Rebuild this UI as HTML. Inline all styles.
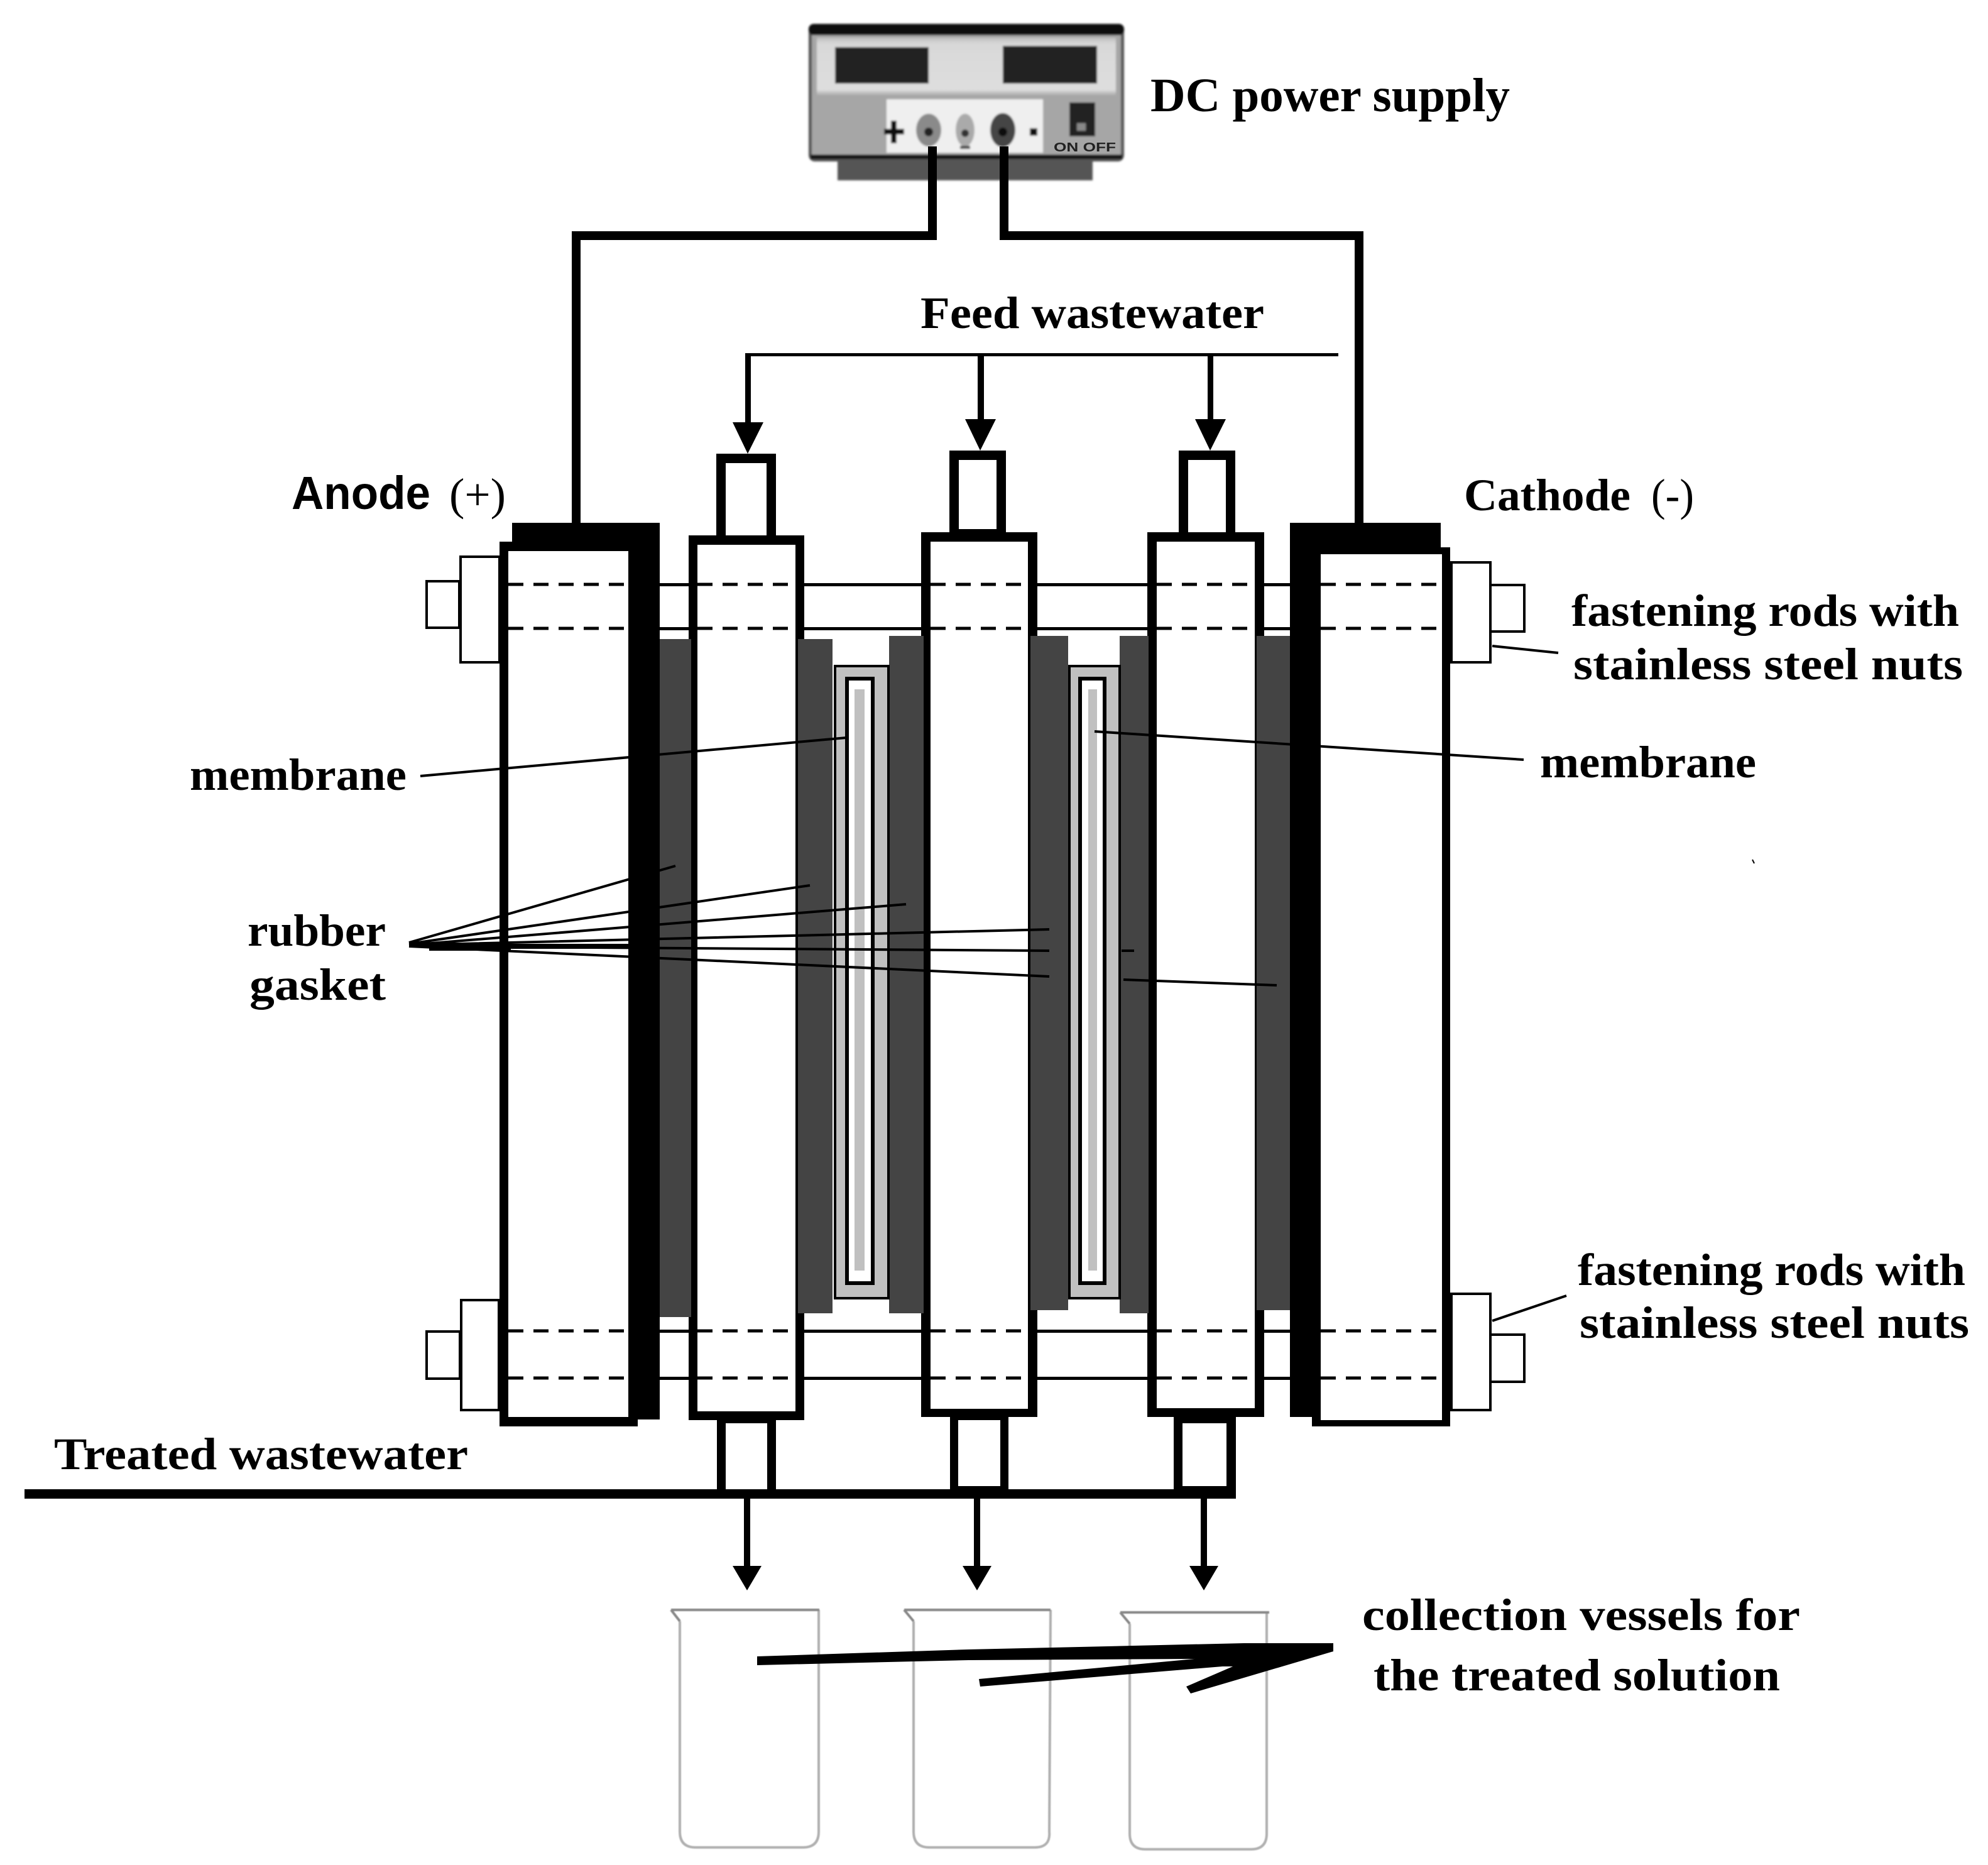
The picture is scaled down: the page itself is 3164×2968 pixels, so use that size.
<!DOCTYPE html>
<html><head><meta charset="utf-8"><style>
html,body{margin:0;padding:0;background:#fff}
svg{display:block}
text{font-family:"Liberation Serif",serif;font-weight:bold;fill:#000}
</style></head><body>
<svg width="3164" height="2968" viewBox="0 0 3164 2968" xmlns="http://www.w3.org/2000/svg">
<defs>
<filter id="b" x="-5%" y="-5%" width="110%" height="110%"><feGaussianBlur stdDeviation="1.6"/></filter>
<filter id="b2" x="-5%" y="-5%" width="110%" height="110%"><feGaussianBlur stdDeviation="0.8"/></filter>
<linearGradient id="pg" x1="0" y1="0" x2="0" y2="1"><stop offset="0" stop-color="#bdbdbd"/><stop offset="0.1" stop-color="#d8d8d8"/><stop offset="0.9" stop-color="#dedede"/><stop offset="1" stop-color="#a8a8a8"/></linearGradient>
</defs>
<rect width="3164" height="2968" fill="#fff"/>

<!-- power supply -->
<g filter="url(#b)">
<rect x="1333" y="250" width="406" height="37" fill="#555"/>
<rect x="1287" y="38" width="502" height="219" rx="10" fill="#555"/>
<rect x="1287" y="38" width="502" height="18" rx="8" fill="#111"/>
<rect x="1290" y="246" width="496" height="7" fill="#111"/>
<rect x="1292" y="56" width="492" height="190" fill="#a6a6a6"/>
<rect x="1300" y="60" width="476" height="92" fill="url(#pg)"/>
<rect x="1329" y="75" width="149" height="58" fill="#222"/>
<rect x="1596" y="73" width="150" height="60" fill="#222"/>
<rect x="1411" y="158" width="249" height="85" fill="#efefef"/>
<ellipse cx="1478" cy="207" rx="20" ry="26" fill="#8a8a8a"/>
<ellipse cx="1536" cy="207" rx="15" ry="26" fill="#aaa"/>
<ellipse cx="1596" cy="207" rx="20" ry="27" fill="#444"/>
<circle cx="1478" cy="210" r="7" fill="#222"/><circle cx="1536" cy="212" r="6" fill="#333"/><circle cx="1596" cy="210" r="7" fill="#111"/>
<rect x="1407" y="205" width="32" height="9" fill="#111"/><rect x="1418" y="192" width="9" height="36" fill="#111"/>
<rect x="1639" y="204" width="12" height="12" fill="#111"/>
<rect x="1528" y="232" width="16" height="5" fill="#444"/>
<rect x="1702" y="163" width="41" height="54" fill="#222"/>
<rect x="1714" y="196" width="14" height="12" fill="#888"/>
</g>
<text x="1677" y="241" font-size="20" textLength="99" lengthAdjust="spacingAndGlyphs" style="font-family:'Liberation Sans',sans-serif;fill:#222">ON OFF</text>

<!-- wires -->
<path d="M917 835V375H1484V233M1598 233V375H2163V835" fill="none" stroke="#000" stroke-width="14"/>

<!-- solid rods -->
<g fill="#000">
<rect x="1050" y="928" width="1003" height="5"/><rect x="1050" y="998" width="1003" height="5"/>
<rect x="1050" y="2116" width="1003" height="5"/><rect x="1050" y="2191" width="1003" height="5"/>
</g>

<!-- stubs -->
<g fill="#000">
<rect x="1140" y="722" width="95" height="140"/>
<rect x="1511" y="717" width="90" height="140"/>
<rect x="1876" y="717" width="90" height="140"/>
<rect x="1141" y="2250" width="94" height="125"/>
<rect x="1512" y="2250" width="93" height="120"/>
<rect x="1868" y="2250" width="99" height="120"/>
</g>
<g fill="#fff">
<rect x="1155" y="737" width="65" height="115"/>
<rect x="1526" y="732" width="60" height="110"/>
<rect x="1891" y="732" width="60" height="115"/>
<rect x="1155" y="2265" width="66" height="105"/>
<rect x="1525" y="2260" width="67" height="105"/>
<rect x="1882" y="2265" width="70" height="100"/>
</g>

<!-- chambers -->
<g fill="#000">
<rect x="1096" y="852" width="184" height="1408"/>
<rect x="1466" y="847" width="185" height="1408"/>
<rect x="1826" y="847" width="186" height="1408"/>
</g>
<g fill="#fff">
<rect x="1110" y="867" width="156" height="1379"/>
<rect x="1481" y="862" width="155" height="1380"/>
<rect x="1841" y="862" width="156" height="1379"/>
</g>

<!-- gaskets (over chamber walls) -->
<g fill="#444">
<rect x="1050" y="1017" width="50" height="1079"/>
<rect x="1270" y="1017" width="55" height="1073"/>
<rect x="1415" y="1012" width="55" height="1078"/>
<rect x="1640" y="1012" width="60" height="1073"/>
<rect x="1782" y="1012" width="46" height="1078"/>
<rect x="2000" y="1012" width="53" height="1073"/>
</g>

<!-- membrane frames -->
<g>
<rect x="1329" y="1060" width="85" height="1006" fill="#c0c0c0" stroke="#000" stroke-width="4"/>
<rect x="1348" y="1080" width="41" height="962" fill="#fff" stroke="#000" stroke-width="6"/>
<rect x="1360" y="1097" width="16" height="925" fill="#c0c0c0"/>
<rect x="1702" y="1060" width="80" height="1006" fill="#c0c0c0" stroke="#000" stroke-width="4"/>
<rect x="1719" y="1080" width="39" height="962" fill="#fff" stroke="#000" stroke-width="6"/>
<rect x="1732" y="1097" width="14" height="925" fill="#c0c0c0"/>
</g>

<!-- anode -->
<rect x="795" y="862" width="220" height="1408" fill="#000"/>
<rect x="809" y="877" width="191" height="1378" fill="#fff"/>
<rect x="815" y="832" width="235" height="45" fill="#000"/>
<rect x="1000" y="832" width="50" height="1427" fill="#000"/>
<!-- cathode -->
<rect x="2088" y="871" width="220" height="1399" fill="#000"/>
<rect x="2102" y="882" width="193" height="1378" fill="#fff"/>
<rect x="2053" y="832" width="240" height="50" fill="#000"/>
<rect x="2053" y="832" width="49" height="1423" fill="#000"/>

<!-- nuts -->
<g fill="#fff" stroke="#000" stroke-width="4">
<rect x="679" y="925" width="52" height="74"/>
<rect x="733" y="886" width="62" height="168"/>
<rect x="679" y="2119" width="53" height="75"/>
<rect x="734" y="2069" width="60" height="175"/>
<rect x="2372" y="931" width="54" height="74"/>
<rect x="2310" y="895" width="62" height="159"/>
<rect x="2372" y="2124" width="54" height="75"/>
<rect x="2310" y="2059" width="62" height="185"/>
</g>

<!-- dashed rods -->
<g stroke="#000" stroke-width="5" stroke-dasharray="24 16" fill="none">
<path d="M809 930H1000M1110 930H1266M1481 930H1636M1841 930H1997M2102 930H2295"/>
<path d="M809 1000H1000M1110 1000H1266M1481 1000H1636M1841 1000H1997M2102 1000H2295"/>
<path d="M809 2118H1000M1110 2118H1266M1481 2118H1636M1841 2118H1997M2102 2118H2295"/>
<path d="M809 2193H1000M1110 2193H1266M1481 2193H1636M1841 2193H1997M2102 2193H2295"/>
</g>

<!-- treated line -->
<rect x="39" y="2370" width="1928" height="15" fill="#000"/>

<!-- feed -->
<rect x="1186" y="562" width="944" height="5" fill="#000"/>
<g fill="#000">
<rect x="1186" y="562" width="9" height="115"/><rect x="1556" y="562" width="10" height="110"/><rect x="1922" y="562" width="9" height="110"/>
<path d="M1166 672H1215L1190 722Z"/><path d="M1536 667H1585L1560 717Z"/><path d="M1902 667H1951L1926 717Z"/>
<path d="M1166 2492H1212L1189 2531Z"/><path d="M1532 2492H1578L1555 2531Z"/><path d="M1893 2492H1939L1916 2531Z"/>
<rect x="1184" y="2384" width="10" height="110"/><rect x="1550" y="2384" width="10" height="110"/><rect x="1911" y="2384" width="10" height="110"/>
</g>

<!-- leaders -->
<g stroke="#000" stroke-width="4" fill="none">
<path d="M669 1235L1347 1174"/>
<path d="M1742 1164L2425 1209"/>
<path d="M2375 1028L2480 1039"/>
<path d="M2375 2102L2493 2062"/>
<path d="M651 1500L1075 1378M651 1502L1289 1409M651 1504L1442 1439M651 1504L1670 1479M651 1506L1670 1513M651 1506L1670 1554"/>
<path d="M1785 1513H1805M1788 1559L2032 1568"/>
</g>
<rect x="683" y="1500" width="130" height="13" fill="#000"/>
<rect x="810" y="1502" width="190" height="8" fill="#000"/>
<path d="M2789 1368l3 6" stroke="#000" stroke-width="2"/>

<!-- beakers -->
<g fill="none" stroke="#b0b0b0" stroke-width="4" filter="url(#b2)">
<path d="M1082 2580V2915Q1082 2940 1107 2940H1278Q1303 2940 1303 2915V2562"/>
<path d="M1454 2580V2915Q1454 2940 1479 2940H1647Q1672 2940 1670 2915L1672 2562"/>
<path d="M1798 2584V2918Q1798 2943 1823 2943H1991Q2016 2943 2016 2918V2566"/>
<path d="M1068 2562H1304M1068 2562L1082 2580M1439 2562H1672M1439 2562L1454 2580M1783 2566H2020M1783 2566L1798 2584" stroke="#888"/>
</g>
<g fill="#000">
<path d="M1205 2636L1541 2625L1980 2615H2122V2628L1900 2640L1541 2642L1205 2650Z"/>
<path d="M1558 2672L1880 2642L1965 2634L1970 2650L1560 2684Z"/>
<path d="M1888 2684L1990 2640L2122 2618V2628L1895 2695Z"/>
<path d="M1890 2636L2122 2620V2628L1990 2652L1940 2652Z"/>
</g>

<!-- text -->
<text x="1831" y="177" font-size="76" textLength="572" lengthAdjust="spacingAndGlyphs">DC power supply</text>
<text x="1465" y="522" font-size="72" textLength="547" lengthAdjust="spacingAndGlyphs">Feed wastewater</text>
<text x="464" y="810" font-size="74" textLength="221" lengthAdjust="spacingAndGlyphs" style="font-family:'Liberation Sans',sans-serif">Anode</text>
<text x="715" y="811" font-size="72" textLength="90" lengthAdjust="spacingAndGlyphs" style="font-weight:normal">(+)</text>
<text x="2330" y="812" font-size="72" textLength="265" lengthAdjust="spacingAndGlyphs">Cathode</text>
<text x="2628" y="812" font-size="72" textLength="68" lengthAdjust="spacingAndGlyphs" style="font-weight:normal">(-)</text>
<text x="2501" y="996" font-size="72" textLength="617" lengthAdjust="spacingAndGlyphs">fastening rods with</text>
<text x="2504" y="1081" font-size="72" textLength="620" lengthAdjust="spacingAndGlyphs">stainless steel nuts</text>
<text x="302" y="1257" font-size="72" textLength="345" lengthAdjust="spacingAndGlyphs">membrane</text>
<text x="2451" y="1237" font-size="72" textLength="344" lengthAdjust="spacingAndGlyphs">membrane</text>
<text x="394" y="1505" font-size="72" textLength="220" lengthAdjust="spacingAndGlyphs">rubber</text>
<text x="397" y="1591" font-size="72" textLength="217" lengthAdjust="spacingAndGlyphs">gasket</text>
<text x="2511" y="2045" font-size="72" textLength="617" lengthAdjust="spacingAndGlyphs">fastening rods with</text>
<text x="2514" y="2129" font-size="72" textLength="620" lengthAdjust="spacingAndGlyphs">stainless steel nuts</text>
<text x="86" y="2338" font-size="72" textLength="659" lengthAdjust="spacingAndGlyphs">Treated wastewater</text>
<text x="2168" y="2594" font-size="72" textLength="697" lengthAdjust="spacingAndGlyphs">collection vessels for</text>
<text x="2186" y="2690" font-size="72" textLength="647" lengthAdjust="spacingAndGlyphs">the treated solution</text>
</svg>
</body></html>
